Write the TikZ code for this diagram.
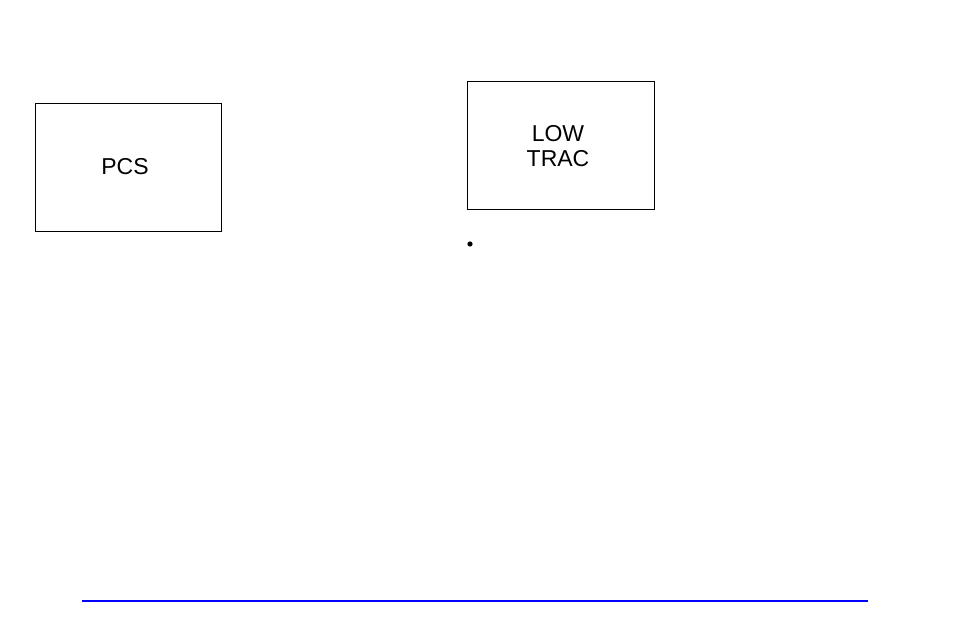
\documentclass[tikz,border=0pt]{standalone}
\usepackage{fontspec}
\setmainfont{Liberation Sans}
\begin{document}
\begin{tikzpicture}[x=1pt,y=-1pt,
  boxst/.style={draw=black,line width=1pt},
  lbl/.style={font=\fontsize{23}{25}\selectfont,align=center,inner sep=0pt}]
\useasboundingbox[fill=white] (0,0) rectangle (954,636);
\draw[boxst] (35,104) rectangle (221,232);
\node[lbl] (pcs) at (125,167) {PCS};
\draw[boxst] (467,82) rectangle (654,210);
\node[lbl] (lt) at (558,146) {LOW\\TRAC};
\fill (470,244) circle (2.6);
\coordinate (l1) at (82,601);
\coordinate (l2) at (868,601);
\draw[blue,line width=1.6pt] (l1) -- (l2);
\end{tikzpicture}
\end{document}
